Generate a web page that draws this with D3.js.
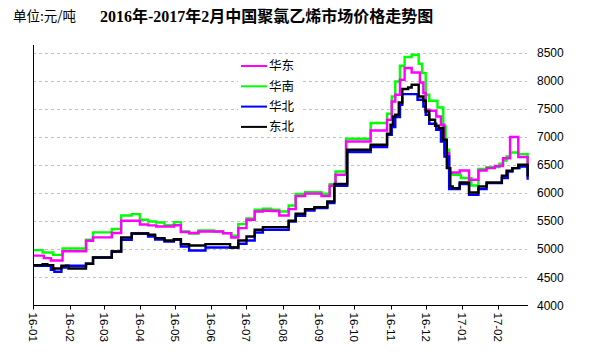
<!DOCTYPE html>
<html><head><meta charset="utf-8">
<script src="https://cdn.jsdelivr.net/npm/d3@7"></script>
<style>
html,body{margin:0;padding:0;background:#fff;}
svg{display:block;}
</style>
</head><body>
<svg id="chart" width="590" height="352"></svg>
<script>
const title = "2016年-2017年2月中国聚氯乙烯市场价格走势图";
const unitLabel = "单位:元/吨";
const seriesNames = ["华东", "华南", "华北", "东北"];
const seriesColors = ["#ff00ff", "#00ff00", "#0000ff", "#000000"];
const yTicks = [4000, 4500, 5000, 5500, 6000, 6500, 7000, 7500, 8000, 8500];
const monthTicks = ["2016-01-01","2016-02-01","2016-03-01","2016-04-01","2016-05-01","2016-06-01","2016-07-01","2016-08-01","2016-09-01","2016-10-01","2016-11-01","2016-12-01","2017-01-01","2017-02-01"];

// 华东
const huadong = [
["2016-01-01",4887],["2016-01-10",4843],["2016-01-16",4801],["2016-01-26",4965],
["2016-02-15",5151],["2016-02-21",5212],["2016-03-08",5290],["2016-03-16",5507],
["2016-04-01",5440],["2016-04-08",5425],["2016-04-15",5405],["2016-04-30",5428],
["2016-05-06",5306],["2016-05-13",5290],["2016-05-21",5317],["2016-06-11",5285],
["2016-06-18",5210],["2016-06-24",5377],["2016-07-01",5525],["2016-07-08",5673],
["2016-07-15",5685],["2016-07-22",5680],["2016-07-29",5601],["2016-08-06",5715],
["2016-08-12",5945],["2016-08-20",5990],["2016-09-03",5945],["2016-09-10",6130],
["2016-09-15",6325],["2016-09-24",6918],["2016-10-15",7113],["2016-10-29",7304],
["2016-11-02",7629],["2016-11-05",7748],["2016-11-09",8015],["2016-11-13",8223],
["2016-11-19",8145],["2016-11-26",7967],["2016-11-29",7779],["2016-12-01",7482],
["2016-12-04",7464],["2016-12-10",7362],["2016-12-14",7215],["2016-12-17",6711],
["2016-12-21",6366],["2016-12-30",6400],["2017-01-07",6236],["2017-01-15",6402],
["2017-01-22",6444],["2017-01-29",6480],["2017-02-05",6620],["2017-02-11",6996],
["2017-02-18",6640],["2017-02-26",6500]
];
// 华南
const huanan = [
["2016-01-01",4985],["2016-01-09",4943],["2016-01-18",4900],["2016-01-26",5015],
["2016-02-15",5170],["2016-02-21",5300],["2016-03-08",5360],["2016-03-16",5600],
["2016-03-25",5625],["2016-04-01",5525],["2016-04-08",5495],["2016-04-15",5477],
["2016-04-22",5430],["2016-04-30",5483],["2016-05-06",5317],["2016-05-13",5281],
["2016-05-21",5334],["2016-06-03",5317],["2016-06-11",5288],["2016-06-18",5240],
["2016-06-24",5448],["2016-07-01",5550],["2016-07-08",5703],["2016-07-15",5722],
["2016-07-22",5705],["2016-07-29",5673],["2016-08-06",5779],["2016-08-12",5985],
["2016-08-20",6015],["2016-09-03",5987],["2016-09-10",6157],["2016-09-15",6384],
["2016-09-24",6966],["2016-10-15",7245],["2016-10-29",7410],["2016-11-02",7718],
["2016-11-05",7985],["2016-11-09",8264],["2016-11-13",8419],["2016-11-19",8460],
["2016-11-25",8300],["2016-11-28",8134],["2016-12-01",7748],["2016-12-04",7642],
["2016-12-11",7523],["2016-12-16",7184],["2016-12-18",6770],["2016-12-21",6355],
["2016-12-24",6325],["2016-12-31",6267],["2017-01-09",6135],["2017-01-15",6427],
["2017-01-22",6462],["2017-02-02",6520],["2017-02-05",6580],["2017-02-08",6651],
["2017-02-11",6722],["2017-02-18",6693],["2017-02-26",6415]
];
// 华北
const huabei = [
["2016-01-01",4706],["2016-01-16",4635],["2016-01-19",4600],["2016-01-25",4676],
["2016-01-29",4706],["2016-02-15",4742],["2016-02-21",4854],["2016-03-08",4961],
["2016-03-16",5169],["2016-03-25",5281],["2016-04-08",5228],["2016-04-14",5175],
["2016-04-22",5139],["2016-04-30",5169],["2016-05-06",5050],["2016-05-13",4979],
["2016-05-27",5032],["2016-06-24",5098],["2016-07-01",5157],["2016-07-08",5299],
["2016-07-15",5347],["2016-08-06",5495],["2016-08-12",5596],["2016-08-20",5690],
["2016-08-28",5733],["2016-09-08",5822],["2016-09-14",6130],["2016-09-25",6728],
["2016-10-15",6817],["2016-10-29",7036],["2016-11-02",7173],["2016-11-05",7352],
["2016-11-09",7570],["2016-11-11",7760],["2016-11-24",7660],["2016-11-29",7540],
["2016-12-01",7393],["2016-12-04",7233],["2016-12-10",7126],["2016-12-14",6918],
["2016-12-17",6651],["2016-12-21",6070],["2016-12-30",6160],["2017-01-07",5970],
["2017-01-15",6070],["2017-01-22",6177],["2017-02-04",6267],["2017-02-09",6384],
["2017-02-13",6444],["2017-02-19",6473],["2017-02-26",6236]
];
// 东北
const dongbei = [
["2016-01-01",4719],["2016-01-09",4736],["2016-01-13",4719],["2016-01-18",4658],
["2016-01-25",4706],["2016-01-31",4658],["2016-02-15",4742],["2016-02-21",4854],
["2016-03-08",4961],["2016-03-16",5210],["2016-03-25",5281],["2016-04-08",5258],
["2016-04-14",5198],["2016-04-22",5157],["2016-04-30",5181],["2016-05-06",5092],
["2016-05-13",5067],["2016-05-27",5092],["2016-06-17",5032],["2016-06-24",5157],
["2016-07-01",5228],["2016-07-08",5347],["2016-07-15",5394],["2016-08-06",5507],
["2016-08-12",5631],["2016-08-20",5715],["2016-08-28",5750],["2016-09-08",5850],
["2016-09-14",6160],["2016-09-25",6770],["2016-10-15",6859],["2016-10-29",7055],
["2016-11-01",7215],["2016-11-03",7362],["2016-11-05",7393],["2016-11-08",7612],
["2016-11-11",7850],["2016-11-16",7878],["2016-11-19",7926],["2016-11-25",7718],
["2016-11-29",7642],["2016-12-01",7451],["2016-12-04",7304],["2016-12-09",7197],
["2016-12-12",7156],["2016-12-16",6948],["2016-12-19",6444],["2016-12-22",6117],
["2016-12-24",6088],["2016-12-30",6189],["2017-01-07",6010],["2017-01-15",6117],
["2017-01-22",6189],["2017-02-04",6307],["2017-02-08",6396],["2017-02-13",6444],
["2017-02-18",6503],["2017-02-26",6295]
];

const allSeries = [huadong, huanan, huabei, dongbei];
const drawOrder = [1, 0, 2, 3];

const parse = d3.utcParse("%Y-%m-%d");
const svg = d3.select("#chart");

const x = d3.scaleUtc()
  .domain([parse("2016-01-01"), parse("2017-02-27")])
  .range([33.3, 528.8]);
const y = d3.scaleLinear().domain([4000, 8500]).range([305.5, 52.5]);

// gridlines
svg.append("g").selectAll("line")
  .data(yTicks.filter(v => v > 4000))
  .join("line")
  .attr("x1", 33).attr("x2", 527)
  .attr("y1", d => Math.round(y(d)) + 0.5).attr("y2", d => Math.round(y(d)) + 0.5)
  .attr("stroke", "#c0c0c0").attr("stroke-width", 1)
  .attr("stroke-dasharray", "3,3");

// right y labels
svg.append("g").selectAll("text")
  .data(yTicks)
  .join("text")
  .attr("x", 537).attr("y", d => y(d))
  .attr("dy", "0.35em")
  .attr("font-family", "Liberation Sans, Arial, sans-serif")
  .attr("font-size", 12)
  .attr("fill", "#000")
  .text(d => d);

// lines
const line = d3.line()
  .x(d => x(parse(d[0])))
  .y(d => y(d[1]))
  .curve(d3.curveStepAfter);

const lg = svg.append("g");
drawOrder.forEach(i => {
  lg.append("path")
    .datum(allSeries[i])
    .attr("d", line)
    .attr("fill", "none")
    .attr("stroke", seriesColors[i])
    .attr("stroke-width", 2.4)
    .attr("stroke-linejoin", "miter");
});

// axes lines
svg.append("line").attr("x1", 33.5).attr("x2", 33.5).attr("y1", 45).attr("y2", 306)
  .attr("stroke", "#000").attr("stroke-width", 1);
svg.append("line").attr("x1", 33).attr("x2", 528).attr("y1", 305.5).attr("y2", 305.5)
  .attr("stroke", "#000").attr("stroke-width", 1);

// x ticks & labels
const xt = svg.append("g").selectAll("g")
  .data(monthTicks)
  .join("g")
  .attr("transform", d => `translate(${Math.round(x(parse(d))) + 0.5},305.5)`);
xt.append("line").attr("y1", 0).attr("y2", 4).attr("stroke", "#000");
xt.append("text")
  .attr("transform", "translate(0,7) rotate(90)")
  .attr("dy", "0.35em")
  .attr("font-family", "Liberation Sans, Arial, sans-serif")
  .attr("font-size", 11.5)
  .attr("fill", "#000")
  .text(d => d3.utcFormat("%y-%m")(parse(d)));

// legend
const leg = svg.append("g");
leg.append("rect").attr("x", 238).attr("y", 55).attr("width", 65).attr("height", 82).attr("fill", "#fff");
seriesNames.forEach((n, i) => {
  const yy = 66 + i * 20.3;
  leg.append("line").attr("x1", 241).attr("x2", 267).attr("y1", yy).attr("y2", yy)
    .attr("stroke", seriesColors[i]).attr("stroke-width", 2);
  leg.append("text").attr("x", 269).attr("y", yy).attr("dy", "0.35em")
    .attr("font-family", "Noto Sans CJK SC, sans-serif").attr("font-size", 12.5)
    .attr("fill", "#000").text(n);
});

// titles
svg.append("text").attr("x", 13).attr("y", 21)
  .attr("font-family", "Noto Sans CJK SC, sans-serif").attr("font-size", 13.5)
  .attr("fill", "#000").text(unitLabel);
svg.append("text").attr("x", 100).attr("y", 22)
  .attr("font-family", "Liberation Serif, Noto Sans CJK SC, serif")
  .attr("font-weight", "bold").attr("font-size", 16)
  .attr("fill", "#000").text(title);
</script>
</body></html>
